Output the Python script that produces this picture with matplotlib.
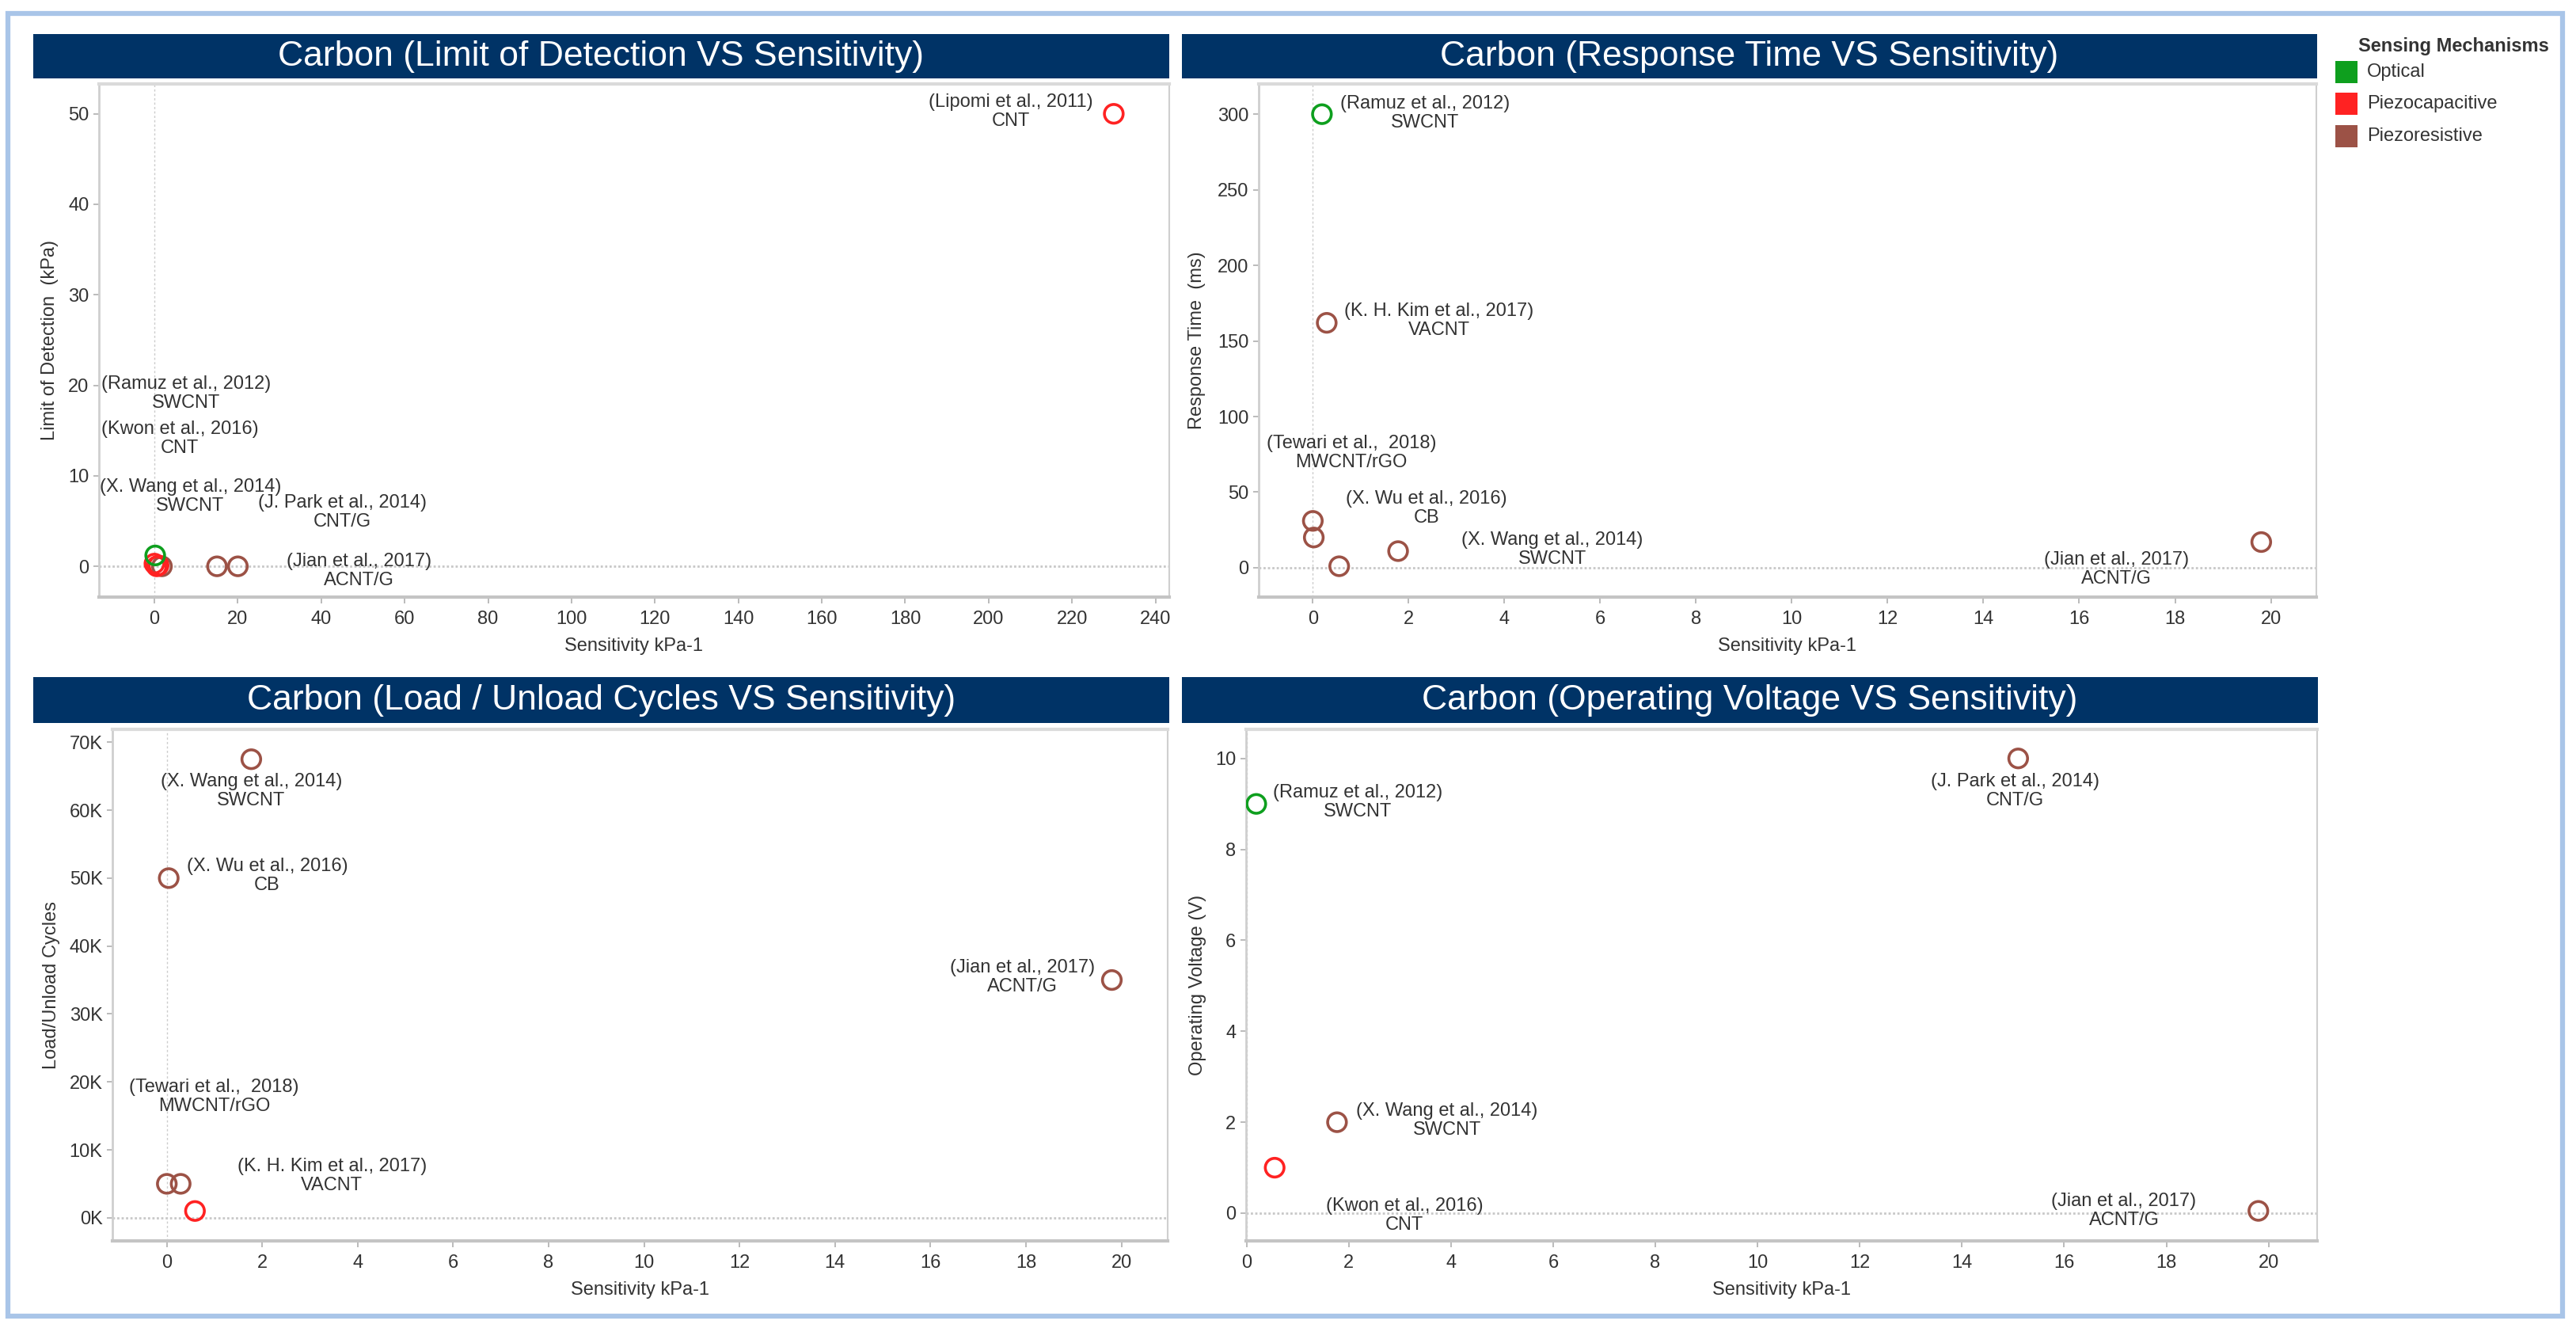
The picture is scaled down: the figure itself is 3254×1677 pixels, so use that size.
import matplotlib
matplotlib.use("Agg")
import matplotlib.pyplot as plt
from matplotlib.patches import Rectangle
from matplotlib.ticker import FuncFormatter

plt.rcParams['font.family'] = ['Liberation Sans', 'DejaVu Sans']

# colours of the sensing mechanisms
mechColors = {"Optical": "#0e9f1e", "Piezocapacitive": "#ff2222", "Piezoresistive": "#9c5246"}
mechOrder = ["Optical", "Piezocapacitive", "Piezoresistive"]

# Limit of detection vs sensitivity
lodSens = [1.8, 15, 20, 0.0, 0.55, 1.0, 230, 0.19]
lodVals = [0.0, 0.0, 0.0, 0.3, 0.0, 0.1, 50, 1.2]
lodMech = ["Piezoresistive", "Piezoresistive", "Piezoresistive", "Piezocapacitive",
           "Piezocapacitive", "Piezocapacitive", "Piezocapacitive", "Optical"]
lodLabels = ["(Lipomi et al., 2011)\nCNT", "(Ramuz et al., 2012)\nSWCNT", "(Kwon et al., 2016)\nCNT",
             "(X. Wang et al., 2014)\nSWCNT", "(J. Park et al., 2014)\nCNT/G", "(Jian et al., 2017)\nACNT/G"]

# Response time vs sensitivity
rtSens = [0.29, 0.0, 0.02, 1.78, 0.55, 19.8, 0.19]
rtVals = [162, 31, 20, 11, 1, 17, 300]
rtMech = ["Piezoresistive"] * 6 + ["Optical"]
rtLabels = ["(Ramuz et al., 2012)\nSWCNT", "(K. H. Kim et al., 2017)\nVACNT", "(Tewari et al.,  2018)\nMWCNT/rGO",
            "(X. Wu et al., 2016)\nCB", "(X. Wang et al., 2014)\nSWCNT", "(Jian et al., 2017)\nACNT/G"]

# Load / unload cycles vs sensitivity
cycSens = [1.77, 0.04, 19.8, 0.0, 0.29, 0.59]
cycVals = [67500, 50000, 35000, 5000, 5000, 1000]
cycMech = ["Piezoresistive"] * 5 + ["Piezocapacitive"]
cycLabels = ["(X. Wang et al., 2014)\nSWCNT", "(X. Wu et al., 2016)\nCB", "(Jian et al., 2017)\nACNT/G",
             "(Tewari et al.,  2018)\nMWCNT/rGO", "(K. H. Kim et al., 2017)\nVACNT"]

# Operating voltage vs sensitivity
volSens = [15.1, 1.77, 19.8, 0.55, 0.19]
volVals = [10, 2, 0.05, 1, 9]
volMech = ["Piezoresistive", "Piezoresistive", "Piezoresistive", "Piezocapacitive", "Optical"]
volLabels = ["(Ramuz et al., 2012)\nSWCNT", "(J. Park et al., 2014)\nCNT/G", "(X. Wang et al., 2014)\nSWCNT",
             "(Kwon et al., 2016)\nCNT", "(Jian et al., 2017)\nACNT/G"]

# layout: label centres in data units
lodLabelPos = [(205.3, 50.2), (7.6, 19.05), (6.1, 14.1), (8.6, 7.75), (45.0, 6.0), (49.1, -0.5)]
rtLabelPos = [(2.34, 300.5), (2.64, 163.4), (0.80, 75.9), (2.37, 39.3), (5.0, 12.0), (16.78, -1.3)]
cycLabelPos = [(1.77, 62800), (2.10, 50300), (17.92, 35400), (0.99, 17800), (3.46, 6200)]
volLabelPos = [(2.18, 9.03), (15.04, 9.29), (3.92, 2.04), (3.09, -0.05), (17.17, 0.05)]

W, H = 3255, 1677
fig = plt.figure(figsize=(W / 100, H / 100), dpi=100)

def fx(px):
    return px / W

def fy(py):
    return 1 - py / H

textColor = "#333333"

# outer light blue frame
fig.add_artist(Rectangle((fx(10), fy(1662)), fx(3237) - fx(10), fy(17) - fy(1662),
                         transform=fig.transFigure, fill=False, edgecolor="#a9c5e8", linewidth=4.5))

def titleBar(x0, x1, y0, y1, text):
    fig.add_artist(Rectangle((fx(x0), fy(y1)), fx(x1) - fx(x0), fy(y0) - fy(y1),
                             transform=fig.transFigure, facecolor="#003366", edgecolor="none"))
    fig.text(fx((x0 + x1) / 2), fy((y0 + y1) / 2), text, color="white", fontsize=32,
             ha="center", va="center")

def makePanel(box, xlim, ylim, xticks, yticks, xs, ys, mechs, labels, labelPos, ylabel, ylabelX, yfmt=None):
    l, r, t, b = box
    ax = fig.add_axes([fx(l), fy(b), (r - l) / W, (b - t) / H])
    ax.set_xlim(xlim)
    ax.set_ylim(ylim)
    ax.set_xticks(xticks)
    ax.set_yticks(yticks)
    if yfmt is not None:
        ax.yaxis.set_major_formatter(yfmt)

    ax.axhline(0, color="#c8c8c8", linewidth=2.0, linestyle=(0, (1, 1)), zorder=1)
    ax.axvline(0, color="#cccccc", linewidth=1.0, linestyle=(0, (2, 2)), zorder=1)

    for m in ["Piezoresistive", "Piezocapacitive", "Optical"]:
        px = [xs[i] for i in range(len(xs)) if mechs[i] == m]
        py = [ys[i] for i in range(len(ys)) if mechs[i] == m]
        ax.scatter(px, py, s=290, facecolors="none", edgecolors=mechColors[m], linewidths=2.6, zorder=3)

    for txt, pos in zip(labels, labelPos):
        ax.text(pos[0], pos[1], txt, ha="center", va="center", multialignment="center",
                fontsize=17, color=textColor, linespacing=1.12, zorder=4)

    for side in ["left", "bottom", "top", "right"]:
        ax.spines[side].set_color("#cfcfcf")
    ax.spines["left"].set_linewidth(2.0)
    ax.spines["bottom"].set_linewidth(3.0)
    ax.spines["bottom"].set_color("#c4c4c4")
    ax.spines["top"].set_linewidth(3.0)
    ax.spines["top"].set_color("#dadada")
    ax.spines["right"].set_linewidth(1.5)

    ax.tick_params(axis="both", colors="#b5b5b5", labelcolor=textColor, labelsize=17, width=1.3)
    ax.tick_params(axis="x", length=6, pad=6)
    ax.tick_params(axis="y", length=5, pad=4)

    ax.set_xlabel("Sensitivity kPa-1", fontsize=17, color=textColor)
    ax.set_ylabel(ylabel, fontsize=17, color=textColor)
    ax.xaxis.set_label_coords(0.5, -(62 / (b - t)), transform=ax.transAxes)
    ax.xaxis.label.set_va("center")
    ax.yaxis.set_label_coords((ylabelX - l) / (r - l), 0.5)
    ax.yaxis.label.set_va("center")
    return ax

titleBar(42, 1477, 43, 99, "Carbon (Limit of Detection VS Sensitivity)")
titleBar(1493, 2927, 43, 99, "Carbon (Response Time VS Sensitivity)")
titleBar(42, 1477, 855, 913, "Carbon (Load / Unload Cycles VS Sensitivity)")
titleBar(1493, 2928, 855, 913, "Carbon (Operating Voltage VS Sensitivity)")

makePanel((125, 1477, 106, 754), (-13.3, 243.3), (-3.4, 53.3), range(0, 241, 20), range(0, 51, 10),
          lodSens, lodVals, lodMech, lodLabels, lodLabelPos, "Limit of Detection  (kPa)", 63)

makePanel((1590, 2926, 106, 754), (-1.13, 20.95), (-19.4, 320), range(0, 21, 2), range(0, 301, 50),
          rtSens, rtVals, rtMech, rtLabels, rtLabelPos, "Response Time  (ms)", 1512)

makePanel((142, 1475, 921, 1567), (-1.14, 20.97), (-3400, 71900), range(0, 21, 2), range(0, 70001, 10000),
          cycSens, cycVals, cycMech, cycLabels, cycLabelPos, "Load/Unload Cycles", 65,
          yfmt=FuncFormatter(lambda v, p: "%dK" % round(v / 1000)))

makePanel((1574, 2927, 921, 1567), (-0.01, 20.95), (-0.61, 10.64), range(0, 21, 2), range(0, 11, 2),
          volSens, volVals, volMech, volLabels, volLabelPos, "Operating Voltage (V)", 1513)

# legend
fig.text(fx(2979), fy(58), "Sensing Mechanisms", fontsize=17, fontweight="bold", color="#333333",
         ha="left", va="center")
legendY = [91, 131, 172]
for m, yc in zip(mechOrder, legendY):
    fig.add_artist(Rectangle((fx(2950), fy(yc + 14)), 28 / W, 28 / H, transform=fig.transFigure,
                             facecolor=mechColors[m], edgecolor="none"))
    fig.text(fx(2990), fy(yc), m, fontsize=17, color="#333333", ha="left", va="center")

fig.savefig("out.png", dpi=100, facecolor="white")
